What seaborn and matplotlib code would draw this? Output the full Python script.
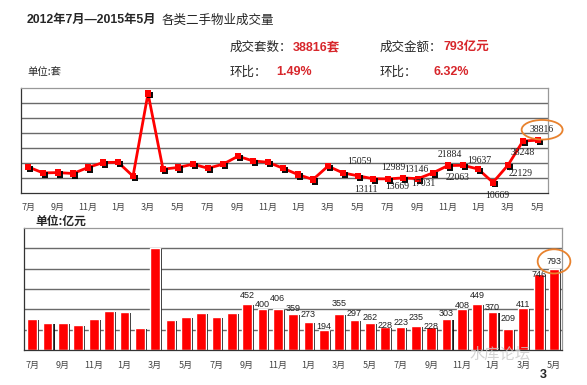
import numpy as np
import pandas as pd
import matplotlib.pyplot as plt
import matplotlib.patheffects as pe
import seaborn as sns

# 2012年7月 - 2015年5月 月度数据
months = ['2012-07', '2012-08', '2012-09', '2012-10', '2012-11', '2012-12',
          '2013-01', '2013-02', '2013-03', '2013-04', '2013-05', '2013-06',
          '2013-07', '2013-08', '2013-09', '2013-10', '2013-11', '2013-12',
          '2014-01', '2014-02', '2014-03', '2014-04', '2014-05', '2014-06',
          '2014-07', '2014-08', '2014-09', '2014-10', '2014-11', '2014-12',
          '2015-01', '2015-02', '2015-03', '2015-04', '2015-05']
month_names = ['7月', '8月', '9月', '10月', '11月', '12月',
               '1月', '2月', '3月', '4月', '5月', '6月',
               '7月', '8月', '9月', '10月', '11月', '12月',
               '1月', '2月', '3月', '4月', '5月', '6月',
               '7月', '8月', '9月', '10月', '11月', '12月',
               '1月', '2月', '3月', '4月', '5月']

# 成交套数(套)
units = [21000, 17000, 17200, 16600, 20600, 23900, 24100, 14800, 70000, 19500,
         20600, 22800, 20100, 22800, 28100, 25000, 24100, 20100, 15900, 12600,
         21500, 17000, 15059, 13111, 12989, 13669, 13146, 17031, 21884, 22063,
         19637, 10669, 22129, 38248, 38816]
# 成交金额(亿元)
amount = [305, 263, 266, 246, 305, 381, 371, 220, 1008, 299,
          322, 361, 328, 368, 452, 400, 406, 359, 273, 194,
          355, 297, 262, 228, 223, 235, 228, 303, 408, 449,
          370, 209, 411, 746, 793]

units_label_from = 22
amount_label_from = 14

# 标签偏移 (points)
units_label_off = [(1, 10), (-5, -8), (4, 8), (-4, -6.5), (-1, 6.5), (-7, -8),
                   (1, 8), (-4, -8.5), (1, 6), (3, -9.5), (9, -6), (0, -8), (3, 7.5)]
amount_label_dy = [9, 5, 10, 5, 8, 4, 10, 6, 6, 1, 5, 9, 0, 6, 3, 9, 5, 10, 4, 0, 8]

W, H = 587, 385
RED = '#FF0000'
TXT_RED = '#D7262B'
ORANGE = '#E8822E'
MIX = ['Liberation Sans', 'Noto Sans CJK SC']


def fx(x):
    return x / W


def fy(y):
    return 1 - y / H


df = pd.DataFrame({'month': months, 'idx': range(len(months)),
                   'units': units, 'amount': amount})

sns.set_style('white')
plt.rcParams['font.family'] = ['Noto Sans CJK SC', 'DejaVu Sans']

fig = plt.figure(figsize=(W / 100, H / 100), dpi=100)
ax1 = fig.add_axes([fx(21), fy(193), (548 - 21) / W, (193 - 88) / H])
ax2 = fig.add_axes([fx(24), fy(350), (562 - 24) / W, (350 - 228) / H])

# ---- 上图: 成交套数 ----
sns.lineplot(data=df, x='idx', y='units', ax=ax1, color=RED, lw=2)
sns.scatterplot(data=df, x='idx', y='units', ax=ax1, color=RED, marker='s', s=20,
                linewidth=0, zorder=3)
ax1.collections[-1].set_path_effects([
    pe.SimplePatchShadow(offset=(1.4, -1.4), shadow_rgbFace='black', alpha=0.95),
    pe.Normal()])

ax1.set_xlim(-0.47, 34.67)
ax1.set_ylim(3600, 73600)
ax1.set_yticks(np.arange(13600, 73600, 10000))
ax1.set_yticklabels([])
ax1.grid(axis='y', color='#6a6a6a', lw=1)
ax1.set_axisbelow(True)
ax1.set_xticks(df['idx'][::2])
ax1.set_xticklabels(month_names[::2], fontsize=6.5, color='#444')
ax1.set_xticks(df['idx'][:-1] + 0.5, minor=True)
ax1.tick_params(axis='x', which='major', length=0, pad=7)
ax1.tick_params(axis='x', which='minor', length=2.5, direction='in', color='#333')
ax1.tick_params(axis='y', length=0)
ax1.set_xlabel('')
ax1.set_ylabel('')

for j, i in enumerate(range(units_label_from, len(units))):
    dx, dy = units_label_off[j]
    kw = {}
    if i == len(units) - 1:
        kw['bbox'] = dict(boxstyle='ellipse,pad=0.25', fc='none', ec=ORANGE, lw=1.3)
    ax1.annotate(str(units[i]), (i, units[i]), xytext=(dx, dy), textcoords='offset points',
                 ha='center', va='center', fontsize=7, family='Liberation Serif',
                 color='#222', zorder=4, **kw)

# ---- 下图: 成交金额 ----
sns.barplot(data=df, x='idx', y='amount', ax=ax2, color=RED, width=0.63, saturation=1)
for p in ax2.patches:
    p.set_path_effects([pe.SimplePatchShadow(offset=(1.5, -0.8), shadow_rgbFace='black', alpha=0.9),
                        pe.Normal()])

ax2.set_xlim(-0.54, 34.52)
ax2.set_ylim(0, 1200)
ax2.set_yticks(np.arange(200, 1200, 200))
ax2.set_yticklabels([])
ax2.grid(axis='y', color='#6a6a6a', lw=1)
ax2.set_axisbelow(True)
ax2.set_xticks(range(0, len(months), 2))
ax2.set_xticklabels(month_names[::2], fontsize=6.5, color='#444')
ax2.tick_params(axis='x', length=0, pad=8)
ax2.tick_params(axis='y', length=0)
ax2.set_xlabel('')
ax2.set_ylabel('')

for j, i in enumerate(range(amount_label_from, len(amount))):
    kw = {}
    if i == len(amount) - 1:
        kw['bbox'] = dict(boxstyle='ellipse,pad=0.45', fc='none', ec=ORANGE, lw=1.3)
    ax2.annotate(str(amount[i]), (i, amount[i]), xytext=(0, amount_label_dy[j] * 0.72),
                 textcoords='offset points', ha='center', va='center', fontsize=6.5,
                 family='Liberation Sans', color='#222', **kw)

for ax in (ax1, ax2):
    for side in ('top', 'right'):
        ax.spines[side].set_color('#999')
    for side in ('left', 'bottom'):
        ax.spines[side].set_color('#333')
    for s in ax.spines.values():
        s.set_linewidth(0.9)

# ---- 文字 ----
t1 = fig.text(fx(27), fy(20), '2012年7月—2015年5月', fontsize=8.8, weight='bold',
              va='center', family=MIX)
fig.add_artist(plt.Annotation('各类二手物业成交量', xy=(1, 0.5), xycoords=t1,
                              xytext=(4, 0), textcoords='offset points',
                              fontsize=9, va='center', ha='left'))

fig.text(fx(230), fy(47), '成交套数：', fontsize=9, va='center')
fig.text(fx(293), fy(47), '38816套', fontsize=9, va='center', color=TXT_RED, weight='bold',
         family=MIX)
fig.text(fx(380), fy(47), '成交金额：', fontsize=9, va='center')
fig.text(fx(443), fy(47), '793亿元', fontsize=9, va='center', color=TXT_RED, weight='bold',
         family=MIX)

fig.text(fx(27), fy(72), '单位:套', fontsize=7.5, va='center')
fig.text(fx(230), fy(72), '环比：', fontsize=9, va='center')
fig.text(fx(276), fy(72), '1.49%', fontsize=9, va='center', color=TXT_RED, weight='bold',
         family='Liberation Sans')
fig.text(fx(380), fy(72), '环比：', fontsize=9, va='center')
fig.text(fx(433), fy(72), '6.32%', fontsize=9, va='center', color=TXT_RED, weight='bold',
         family='Liberation Sans')

fig.text(fx(35), fy(221), '单位:亿元', fontsize=8.5, va='center', weight='bold')

fig.text(fx(500), fy(354), '水库论坛', fontsize=11, va='center', ha='center',
         color='#c8c8c8', alpha=0.8)
fig.text(fx(543), fy(375), '3', fontsize=9, va='center', ha='center', weight='bold',
         family='Liberation Sans')

fig.savefig('out.png', dpi=100)
